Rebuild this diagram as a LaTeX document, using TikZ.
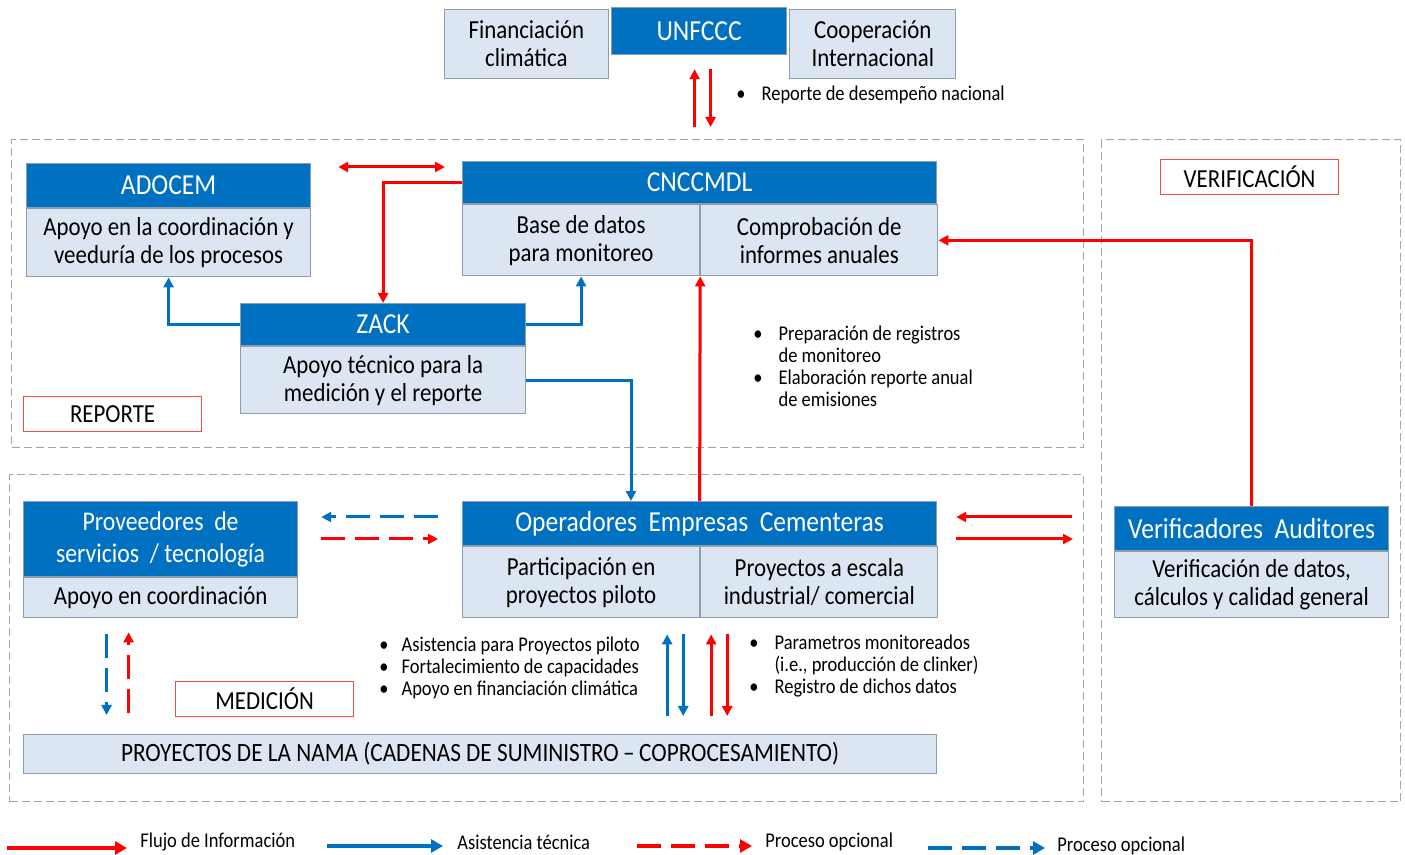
\documentclass[tikz,border=0pt]{standalone}
\usepackage{fontspec}
\setmainfont{Carlito}[FakeStretch=0.88]
\usetikzlibrary{positioning,arrows.meta}
\definecolor{azulCab}{HTML}{0070C0}
\definecolor{celeste}{HTML}{DCE6F2}
\definecolor{bordeGris}{HTML}{8D9DAE}
\definecolor{rojoFlujo}{HTML}{FF0000}
\definecolor{rojoEtiq}{HTML}{F04B4B}
\definecolor{grisZona}{HTML}{A6A6A6}
\tikzstyle{Cabecera}=[rectangle, draw=bordeGris, fill=azulCab, text=white, line width=0.6pt, inner sep=0pt, align=center, font=\fontsize{14.5}{16}\selectfont]
\tikzstyle{Cuerpo}=[rectangle, draw=bordeGris, fill=celeste, line width=0.6pt, inner sep=0pt, align=center, font=\fontsize{13}{14}\selectfont]
\tikzstyle{Etiqueta}=[rectangle, draw=rojoEtiq, line width=0.6pt, minimum width=89pt, minimum height=17.5pt, inner sep=0pt, font=\fontsize{13}{14}\selectfont]
\tikzstyle{Zona}=[rectangle, draw=grisZona, dash pattern=on 4pt off 2pt, line width=0.6pt, inner sep=0pt]
\tikzstyle{Notas}=[inner sep=0pt, anchor=west, font=\fontsize{10.5}{11}\selectfont]
\tikzstyle{Leyenda}=[inner sep=0pt, anchor=west, font=\fontsize{10.5}{11}\selectfont]
\tikzstyle{Flecha}=[line width=1.5pt, -{Triangle[length=5pt,width=5pt]}]
\tikzstyle{FlechaInfo}=[Flecha, draw=rojoFlujo]
\tikzstyle{FlechaAsis}=[Flecha, draw=azulCab]
\tikzstyle{Opcional}=[dash pattern=on 12pt off 5pt]
\tikzstyle{FlechaLey}=[line width=2pt, -{Triangle[length=6pt,width=6.5pt]}]

\begin{document}
\begin{tikzpicture}[x=0.5pt, y=-0.5pt]
	\useasboundingbox (0,0) rectangle (1405,855);

	%Zonas
	\node[Zona, anchor=north west, minimum width=536pt, minimum height=154pt]	(zona_reporte)	at (11,139)	{};
	\node[Zona, anchor=north west, minimum width=149.5pt, minimum height=331pt]	(zona_verif)	at (1101,139)	{};
	\node[Zona, anchor=north west, minimum width=537pt, minimum height=163.5pt]	(zona_medicion)	at (9,474)	{};

	%Nodos
	\node[Cabecera, anchor=north west, minimum width=87.5pt, minimum height=23.5pt]	(unfccc)	at (611,7)	{UNFCCC};
	\node[Cuerpo, minimum width=82pt, minimum height=34.5pt]	(financiacion)	[below left=1pt and 1pt of unfccc.north west]	{Financiación\\climática};
	\node[Cuerpo, minimum width=83pt, minimum height=34.5pt]	(cooperacion)	[below right=1pt and 1pt of unfccc.north east]	{Cooperación\\Internacional};

	\node[Cabecera, anchor=north west, minimum width=142pt, minimum height=22pt]	(adocem_cab)	at (26,163)	{ADOCEM};
	\node[Cuerpo, minimum width=142pt, minimum height=34pt]	(adocem_cuerpo)	[below right=0pt and 0pt of adocem_cab.south west]	{Apoyo en la coordinación y\\veeduría de los procesos};

	\node[Cabecera, anchor=north west, minimum width=237pt, minimum height=21pt]	(cnc_cab)	at (462,161)	{CNCCMDL};
	\node[Cuerpo, minimum width=118.5pt, minimum height=35.5pt]	(cnc_base)	[below right=0pt and 0pt of cnc_cab.south west]	{Base de datos\\para monitoreo};
	\node[Cuerpo, minimum width=118.5pt, minimum height=35.5pt]	(cnc_comp)	[right=0pt of cnc_base]	{Comprobación de\\informes anuales};

	\node[Cabecera, anchor=north west, minimum width=142.5pt, minimum height=21pt]	(zack_cab)	at (240,303)	{ZACK};
	\node[Cuerpo, minimum width=142.5pt, minimum height=33.5pt]	(zack_cuerpo)	[below right=0pt and 0pt of zack_cab.south west]	{Apoyo técnico para la\\medición y el reporte};

	\node[Cabecera, anchor=north west, minimum width=237pt, minimum height=22pt]	(oper_cab)	at (462,501)	{Operadores\ \ Empresas\ \ Cementeras};
	\node[Cuerpo, minimum width=118.5pt, minimum height=35.5pt]	(oper_piloto)	[below right=0pt and 0pt of oper_cab.south west]	{Participación en\\proyectos piloto};
	\node[Cuerpo, minimum width=118.5pt, minimum height=35.5pt]	(oper_escala)	[right=0pt of oper_piloto]	{Proyectos a escala\\industrial/ comercial};

	\node[Cabecera, anchor=north west, minimum width=137pt, minimum height=37.5pt, font=\fontsize{13.5}{16}\selectfont]	(prov_cab)	at (23,501)	{Proveedores\ \ de\\servicios\ \ /\ tecnología};
	\node[Cuerpo, minimum width=137pt, minimum height=20pt]	(prov_cuerpo)	[below right=0pt and 0pt of prov_cab.south west]	{Apoyo en coordinación};

	\node[Cabecera, anchor=north west, minimum width=137pt, minimum height=22pt]	(verif_cab)	at (1114,506)	{Verificadores\ \ Auditores};
	\node[Cuerpo, minimum width=137pt, minimum height=33pt]	(verif_cuerpo)	[below right=0pt and 0pt of verif_cab.south west]	{Verificación de datos,\\cálculos y calidad general};

	\node[Cuerpo, anchor=north west, minimum width=456.5pt, minimum height=19.5pt, font=\fontsize{13.2}{14}\selectfont]	(nama)	at (23,734)	{PROYECTOS DE LA NAMA (CADENAS DE SUMINISTRO\,--\,COPROCESAMIENTO)};

	%Etiquetas
	\node[Etiqueta, anchor=north west]	(reporte_lbl)	at (23,396)	{REPORTE};
	\node[Etiqueta, anchor=north west]	(verif_lbl)	at (1160,159)	{VERIFICACIÓN};
	\node[Etiqueta, anchor=north west]	(medicion_lbl)	at (175,681)	{MEDICIÓN};

	%Notas
	\node[Notas]	(notas_nac)	at (736,96)	{\begin{tabular}{@{}l@{\hspace{8pt}}l@{}}\textbullet & Reporte de desempeño nacional\end{tabular}};
	\node[Notas]	(notas_cnc)	at (753,369)	{\begin{tabular}{@{}l@{\hspace{8pt}}l@{}}\textbullet & Preparación de registros\\ & de monitoreo\\ \textbullet & Elaboración reporte anual\\ & de emisiones\end{tabular}};
	\node[Notas]	(notas_asis)	at (379,669.5)	{\begin{tabular}{@{}l@{\hspace{6.5pt}}l@{}}\textbullet & Asistencia para Proyectos piloto\\ \textbullet & Fortalecimiento de capacidades\\ \textbullet & Apoyo en financiación climática\end{tabular}};
	\node[Notas]	(notas_param)	at (749,667.5)	{\begin{tabular}{@{}l@{\hspace{8pt}}l@{}}\textbullet & Parametros monitoreados\\ & (i.e., producción de clinker)\\ \textbullet & Registro de dichos datos\end{tabular}};

	%Lineas
	\draw[FlechaInfo, shorten <=6pt, shorten >=7pt]	([xshift=-2.25pt]unfccc.south |- zona_reporte.north) -- ([xshift=-2.25pt]unfccc.south);
	\draw[FlechaInfo, shorten <=7pt, shorten >=6pt]	([xshift=5.75pt]unfccc.south) -- ([xshift=5.75pt]unfccc.south |- zona_reporte.north);

	\draw[FlechaInfo, {Triangle[length=5pt,width=5pt]}-{Triangle[length=5pt,width=5pt]}, shorten <=13.5pt, shorten >=8.5pt]	([yshift=-2pt]adocem_cab.north east) -- ([yshift=-2pt]adocem_cab.north east -| cnc_cab.west);
	\draw[FlechaInfo]	(cnc_cab.west) -| (zack_cab.north);
	\draw[FlechaAsis]	(zack_cab.west) -| (adocem_cuerpo.south);
	\draw[FlechaAsis]	(zack_cab.east) -| (cnc_base.south);
	\draw[FlechaAsis]	(zack_cuerpo.east) -| ([xshift=84.5pt]oper_cab.north west);
	\draw[FlechaInfo]	(oper_cab.north) -- (cnc_base.south east);
	\draw[FlechaInfo]	(verif_cab.north) |- (cnc_comp.east);

	\draw[FlechaAsis, Opcional, shorten <=12pt, shorten >=11.5pt]	([yshift=-8pt]oper_cab.north west) -- ([yshift=-8pt]oper_cab.north west -| prov_cab.east);
	\draw[FlechaInfo, Opcional, shorten <=11.5pt, shorten >=12pt]	([yshift=-19pt]oper_cab.north west -| prov_cab.east) -- ([yshift=-19pt]oper_cab.north west);

	\draw[FlechaInfo, shorten <=21pt, shorten >=9.5pt]	([yshift=-8pt]oper_cab.north east -| verif_cab.west) -- ([yshift=-8pt]oper_cab.north east);
	\draw[FlechaInfo, shorten <=9.5pt, shorten >=20.5pt]	([yshift=-19pt]oper_cab.north east) -- ([yshift=-19pt]oper_cab.north east -| verif_cab.west);

	\draw[FlechaAsis, Opcional, shorten <=8pt, shorten >=9.5pt]	([xshift=-27pt]prov_cuerpo.south) -- ([xshift=-27pt]prov_cuerpo.south |- nama.north);
	\draw[FlechaInfo, Opcional, shorten <=10.5pt, shorten >=7pt]	([xshift=-16pt]prov_cuerpo.south |- nama.north) -- ([xshift=-16pt]prov_cuerpo.south);

	\draw[FlechaAsis, shorten <=9pt, shorten >=8pt]	([xshift=-16.5pt]oper_piloto.south east |- nama.north) -- ([xshift=-16.5pt]oper_piloto.south east);
	\draw[FlechaAsis, shorten <=8pt, shorten >=9pt]	([xshift=-8.5pt]oper_piloto.south east) -- ([xshift=-8.5pt]oper_piloto.south east |- nama.north);
	\draw[FlechaInfo, shorten <=9pt, shorten >=8pt]	([xshift=5.5pt]oper_piloto.south east |- nama.north) -- ([xshift=5.5pt]oper_piloto.south east);
	\draw[FlechaInfo, shorten <=8pt, shorten >=9pt]	([xshift=13.5pt]oper_piloto.south east) -- ([xshift=13.5pt]oper_piloto.south east |- nama.north);

	%Leyenda
	\node[Leyenda]	(ley_flujo)	at (140,842)	{Flujo de Información};
	\node[Leyenda]	(ley_asis)	at (457,842)	{Asistencia técnica};
	\node[Leyenda]	(ley_opc_rojo)	at (765,842)	{Proceso opcional};
	\node[Leyenda]	(ley_opc_azul)	at (1057,846)	{Proceso opcional};
	\coordinate (ley_flujo_ini)	at (7,848);
	\coordinate (ley_asis_ini)	at (327,846);
	\coordinate (ley_opc_rojo_ini)	at (637,846);
	\coordinate (ley_opc_azul_ini)	at (928,848);
	\draw[FlechaLey, draw=rojoFlujo, shorten >=6.5pt]	(ley_flujo_ini) -- (ley_flujo_ini -| ley_flujo.west);
	\draw[FlechaLey, draw=azulCab, shorten >=7pt]	(ley_asis_ini) -- (ley_asis_ini -| ley_asis.west);
	\draw[FlechaLey, draw=rojoFlujo, Opcional, shorten >=6.5pt]	(ley_opc_rojo_ini) -- (ley_opc_rojo_ini -| ley_opc_rojo.west);
	\draw[FlechaLey, draw=azulCab, Opcional, shorten >=6pt]	(ley_opc_azul_ini) -- (ley_opc_azul_ini -| ley_opc_azul.west);

\end{tikzpicture}
\end{document}
